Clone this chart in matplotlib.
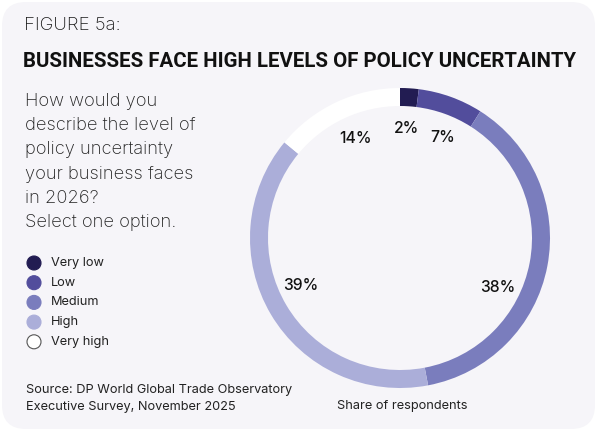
import numpy as np
import matplotlib
matplotlib.use("Agg")
import matplotlib.pyplot as plt
from matplotlib.patches import FancyBboxPatch, Circle

plt.rcParams['font.family'] = ['Inter', 'DejaVu Sans']

categories = ['Very low', 'Low', 'Medium', 'High', 'Very high']
shares = [2, 7, 38, 39, 14]
colors = ['#221c52', '#524d9c', '#7a7dbd', '#abaed9', '#ffffff']
# small angular nudges (degrees) so labels sit where the original puts them
label_shift = [0, 3, 16, 5, 1]

W, H = 599, 433
fig = plt.figure(figsize=(W / 100, H / 100), dpi=100)
fig.patch.set_facecolor('white')

bg = fig.add_axes([0, 0, 1, 1])
bg.set_xlim(0, W)
bg.set_ylim(H, 0)
bg.axis('off')
bg.add_patch(FancyBboxPatch((2, 2), W - 6, H - 6,
                            boxstyle='round,pad=0,rounding_size=24',
                            facecolor='#f6f5f9', edgecolor='none'))

bg.text(24, 30, 'FIGURE 5a:', fontsize=13.4, fontweight='light',
        color='#1a1a1a', va='baseline')
title = bg.text(23, 67, 'BUSINESSES FACE HIGH LEVELS OF POLICY UNCERTAINTY',
                fontsize=15, fontweight='bold', family=['Roboto', 'DejaVu Sans'],
                color='#111111', va='baseline')
# squeeze the title to the width it has in the original (about 552 px)
fig.canvas.draw()
tw = title.get_window_extent().width
title.set_fontsize(15 * 552 / tw)

question = ['How would you', 'describe the level of', 'policy uncertainty',
            'your business faces', 'in 2026?', 'Select one option.']
for i, line in enumerate(question):
    bg.text(25, 106 + i * 24.2, line, fontsize=13.2, fontweight='light',
            color='#222222', va='baseline')

for i, (cat, col) in enumerate(zip(categories, colors)):
    y = 263 + i * 19.7
    bg.add_patch(Circle((34, y), 7, facecolor=col,
                        edgecolor='#555555' if col == '#ffffff' else col, lw=0.8))
    bg.text(51, y, cat, fontsize=9.2, color='#222222', va='center')

bg.text(26, 393, 'Source: DP World Global Trade Observatory', fontsize=9.2,
        color='#222222', va='baseline')
bg.text(26, 410, 'Executive Survey, November 2025', fontsize=9.2,
        color='#222222', va='baseline')
bg.text(402, 409, 'Share of respondents', fontsize=9.2, color='#222222',
        ha='center', va='baseline')

cx, cy, R = 400, 238, 150
ax = fig.add_axes([(cx - R) / W, (H - cy - R) / H, 2 * R / W, 2 * R / H])
ax.pie(shares, colors=colors, startangle=90, counterclock=False, radius=1,
       wedgeprops=dict(width=18 / R, edgecolor='none'))
ax.set_xlim(-1, 1)
ax.set_ylim(-1, 1)
ax.set_aspect('equal')
ax.axis('off')

cum = np.cumsum([0] + shares[:-1])
for val, start, sh in zip(shares, cum, label_shift):
    ang = np.deg2rad((start + val / 2) * 3.6 + sh)
    r = 0.73
    ax.text(r * np.sin(ang), r * np.cos(ang), f'{val}%', fontsize=11.3,
            fontweight='medium', color='#111111', ha='center', va='center')

fig.savefig('out.png', dpi=100, facecolor=fig.get_facecolor())
